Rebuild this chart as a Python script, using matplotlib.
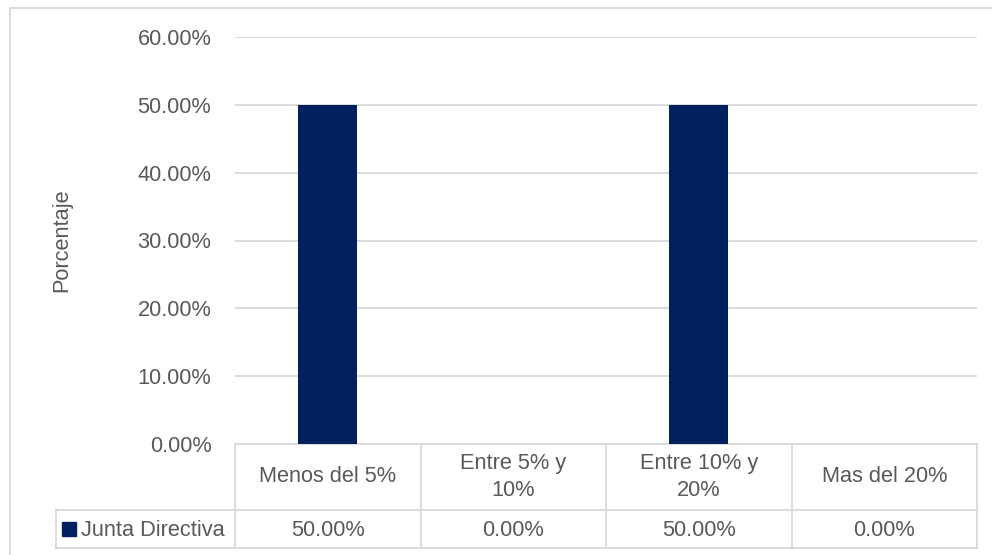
#!/usr/bin/env python3

import matplotlib.pyplot as plt
import matplotlib.transforms as mtransforms
from matplotlib.patches import Rectangle
from matplotlib.ticker import FuncFormatter

# Data
categories = ['Menos del 5%', 'Entre 5% y\n10%', 'Entre 10% y\n20%', 'Mas del 20%']
series_name = 'Junta Directiva'
values = [50.0, 0.0, 50.0, 0.0]
yticks = [0, 10, 20, 30, 40, 50, 60]

bar_color = '#002060'
text_color = '#595959'
line_color = '#D9D9D9'
fs = 15.7

plt.rcParams['font.family'] = ['Liberation Sans', 'DejaVu Sans']

W, H = 992, 555
fig = plt.figure(figsize=(W / 100, H / 100), dpi=100)

# plot area in pixels
px_l, px_r, px_t, px_b = 235, 977, 37, 444
ax = fig.add_axes([px_l / W, 1 - px_b / H, (px_r - px_l) / W, (px_b - px_t) / H])

x = range(len(categories))
ax.bar(x, values, width=0.32, color=bar_color, zorder=3)
ax.set_xlim(-0.5, len(categories) - 0.5)
ax.set_ylim(0, 60)
ax.set_yticks(yticks)
ax.yaxis.set_major_formatter(FuncFormatter(lambda v, p: f'{v:.2f}%'))
ax.tick_params(axis='y', length=0, pad=17, labelsize=fs, labelcolor=text_color)
ax.set_xticks([])
ax.grid(axis='y', color=line_color, linewidth=1.3, zorder=0)
for s in ax.spines.values():
    s.set_visible(False)

fig.text(62 / W, 1 - 240 / H, 'Porcentaje', rotation=90, ha='center', va='center',
         fontsize=fs, color=text_color)

# data table below the axis
plot_h = px_b - px_t
def ay(py):
    return -(py - px_b) / plot_h

row1_bot = ay(510)
row2_bot = ay(548)
trans = mtransforms.blended_transform_factory(ax.transData, ax.transAxes)
lw = 1.3
n = len(categories)
for i in range(n + 1):
    ax.plot([i - 0.5, i - 0.5], [0, row2_bot], transform=trans, color=line_color,
            lw=lw, clip_on=False)
ax.plot([-0.5, n - 0.5], [0, 0], transform=trans, color=line_color, lw=lw, clip_on=False)
# header row bottom / data row top extends left to legend cell
left_ax = (56 - px_l) / (px_r - px_l)
ax.plot([left_ax, 1], [row1_bot, row1_bot], transform=ax.transAxes, color=line_color,
        lw=lw, clip_on=False)
ax.plot([left_ax, 1], [row2_bot, row2_bot], transform=ax.transAxes, color=line_color,
        lw=lw, clip_on=False)
ax.plot([left_ax, left_ax], [row1_bot, row2_bot], transform=ax.transAxes, color=line_color,
        lw=lw, clip_on=False)

for i, (c, v) in enumerate(zip(categories, values)):
    ax.text(i, ay(477), c, transform=trans, ha='center', va='center',
            fontsize=fs, color=text_color, linespacing=1.35)
    ax.text(i, ay(530), f'{v:.2f}%', transform=trans, ha='center',
            va='center', fontsize=fs, color=text_color)

# legend key + series name
fig.patches.append(Rectangle((62 / W, 1 - 536 / H), 14 / W, 14 / H, transform=fig.transFigure,
                             color=bar_color))
fig.text(81 / W, 1 - 530 / H, series_name, ha='left', va='center', fontsize=fs,
         color=text_color)

# chart border
fig.patches.append(Rectangle((10 / W, -0.01), (W - 10) / W + 0.02, 1 - 8 / H + 0.01,
                             transform=fig.transFigure, fill=False, edgecolor=line_color,
                             lw=1.3))

plt.savefig('out.png', dpi=100)
plt.close()
